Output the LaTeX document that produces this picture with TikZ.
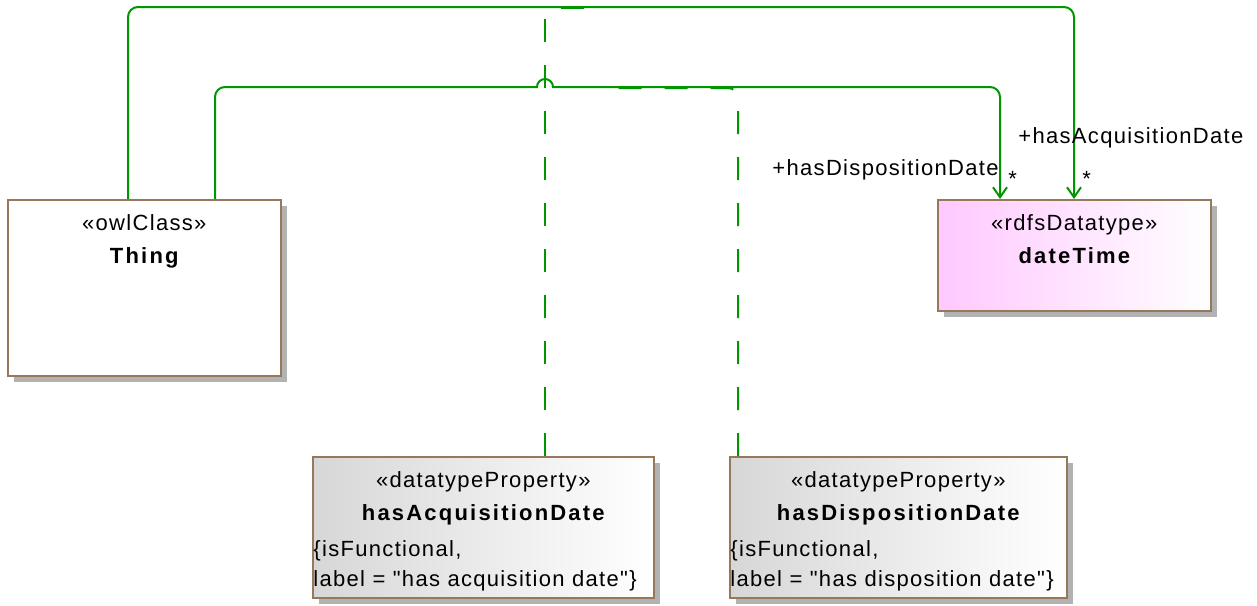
\documentclass[tikz,border=0pt]{standalone}
\usepackage{fontspec}
\newfontfamily\umlfont{Liberation Sans}[LetterSpace=6, BoldFeatures={LetterSpace=10}]
\usepackage{tikz}
\usetikzlibrary{arrows.meta, positioning, calc, shadows}
\definecolor{umlborder}{RGB}{150,120,90}
\definecolor{assocgreen}{RGB}{0,150,0}
\definecolor{dtpink}{RGB}{255,200,255}
\definecolor{propgray}{RGB}{215,215,215}

\begin{document}
\begin{tikzpicture}[x=0.5pt, y=-0.5pt,
  every node/.style={font=\umlfont\fontsize{11}{13}\selectfont, inner sep=0pt},
  umlbox/.style={draw=umlborder, line width=0.8pt, anchor=north west,
    drop shadow={shadow xshift=3pt, shadow yshift=-3pt, fill=black!30, opacity=1}},
  stereo/.style={anchor=base},
  boxname/.style={anchor=base, font=\umlfont\fontsize{11}{13}\selectfont\bfseries},
  proptext/.style={anchor=base west},
  rolelabel/.style={anchor=base west},
  assoc/.style={draw=assocgreen, line width=1pt, rounded corners=5pt,
    -{Straight Barb[length=5pt,width=7pt]}},
  assocdash/.style={draw=assocgreen, line width=1pt, rounded corners=5pt,
    dash pattern=on 11.5pt off 11.5pt},
]
\useasboundingbox (0,0) rectangle (1257,605);

% classes
\node[umlbox, fill=white, minimum width=136.5pt, minimum height=88pt] (thing) at (7,199) {};
\node[umlbox, left color=dtpink, right color=white, minimum width=136.5pt, minimum height=55.5pt] (datetime) at (937,199) {};
\node[umlbox, left color=propgray, right color=white, minimum width=170.5pt, minimum height=70.5pt] (acq) at (312,456) {};
\node[umlbox, left color=propgray, right color=white, minimum width=168.5pt, minimum height=70.5pt] (disp) at (729,456) {};

\node[stereo] (thingst) at ([yshift=-15.5pt]thing.north) {«owlClass»};
\node[boxname] (thingname) at ([yshift=-32pt]thing.north) {Thing};
\node[stereo] (datetimest) at ([yshift=-15.5pt]datetime.north) {«rdfsDatatype»};
\node[boxname] (datetimename) at ([yshift=-32pt]datetime.north) {dateTime};

\node[stereo] (acqst) at ([yshift=-15.5pt]acq.north) {«datatypeProperty»};
\node[boxname] (acqname) at ([yshift=-32pt]acq.north) {hasAcquisitionDate};
\node[proptext] (acqp1) at ([xshift=0.5pt, yshift=-50pt]acq.north west) {\{isFunctional,};
\node[proptext] (acqp2) at ([xshift=0.5pt, yshift=-65pt]acq.north west) {label = "has acquisition date"\}};

\node[stereo] (dispst) at ([yshift=-15.5pt]disp.north) {«datatypeProperty»};
\node[boxname] (dispname) at ([yshift=-32pt]disp.north) {hasDispositionDate};
\node[proptext] (dispp1) at ([xshift=0.5pt, yshift=-50pt]disp.north west) {\{isFunctional,};
\node[proptext] (dispp2) at ([xshift=0.5pt, yshift=-65pt]disp.north west) {label = "has disposition date"\}};

% links of the property classes
\coordinate (acqlink) at ([xshift=116.5pt]acq.north west);
\coordinate (displink) at ([xshift=4.5pt]disp.north west);
\coordinate (hop) at (537,87);

% associations
\draw[assoc] ([xshift=60.5pt]thing.north west) -- ++(0,-192) -| ([xshift=68.5pt]datetime.north west);
\draw[assoc] ([xshift=104pt]thing.north west) -- ++(0,-112) [sharp corners] -- (hop)
  arc[start angle=180, end angle=0, radius=4pt] -- ++(5,0) [rounded corners=5pt] -| ([xshift=31.5pt]datetime.north west);

\draw[assocdash] (acqlink) -- ++(0,-448) -- ++(58,0);
\draw[assocdash] (displink) -- ++(0,-368) -- ++(-128,0);

% role names
\node[rolelabel, anchor=base east] (disprole) at (999,175) {+hasDispositionDate};
\node[rolelabel] (dispmult) at (1008,186) {*};
\node[rolelabel] (acqrole) at (1018,143) {+hasAcquisitionDate};
\node[rolelabel] (acqmult) at (1082,186) {*};
\end{tikzpicture}
\end{document}
